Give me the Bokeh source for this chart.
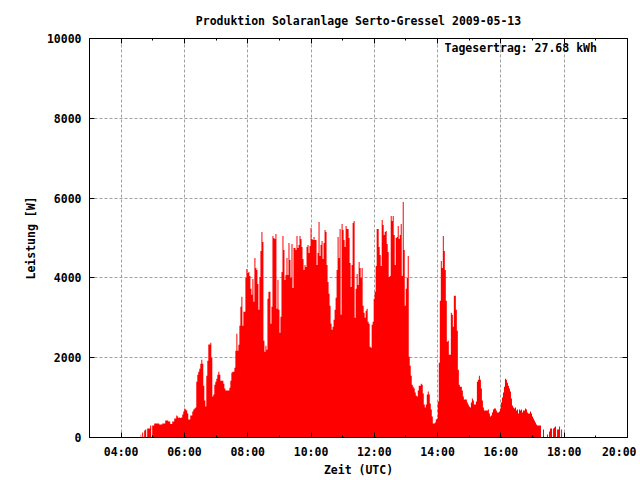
import numpy as np
import pandas as pd
from bokeh.plotting import figure
from bokeh.models import (ColumnDataSource, DatetimeAxis, LinearAxis, FixedTicker,
                          DatetimeTickFormatter, Range1d, Label)
from bokeh.embed import file_html
from bokeh.resources import INLINE

# ---------------- data ----------------
chart_title = "Produktion Solaranlage Serto-Gressel 2009-05-13"
day = "2009-05-13"
first_sample = "04:37:00"          # time of first sample (UTC)
sample_step_s = 114                 # seconds between samples
daily_yield_text = "Tagesertrag: 27.68 kWh"
x_label = "Zeit (UTC)"
y_label = "Leistung [W]"

# power in W, one value per sample
leistung_w = [
    75, 0, 125, 0, 175, 200, 0, 225, 225, 225, 300, 0, 300, 300, 350, 350, 350, 350, 350, 325,
    325, 325, 350, 350, 350, 425, 425, 425, 400, 400, 340, 340, 400, 400, 475, 475, 550, 525, 490, 500,
    490, 500, 575, 650, 725, 700, 675, 600, 450, 450, 550, 550, 650, 700, 725, 750,
    1400, 1575, 1650, 1725, 1850, 1950, 1850, 1300, 925, 775, 1550, 1925, 2330, 2330, 2375, 2000,
    1025, 1075, 1325, 1400, 1475, 1575, 1650, 1575, 1425, 1425, 1425, 1350, 1225, 1175, 1175, 1175,
    1175, 1250, 1425, 1625, 1650, 1650, 1750, 2175, 2600, 2175, 2325, 2800, 3275, 3525, 2800, 3150,
    3150, 4000, 4225, 4125, 4150, 4050, 3725, 3575, 3975, 3400, 4500, 4250, 4200, 3850, 3200, 4025,
    4675, 5150, 4900, 2425, 2150, 2300, 2200, 3475, 3650, 3650,
    2850, 3275, 5050, 5000, 4975, 5100, 3225, 3950, 3200, 2625, 3025, 4150, 5050, 4700, 3950, 4075,
    4500, 4075, 4875, 4450, 4000, 4850, 3750, 4750, 4750, 4700, 5050, 4750, 4825, 5050, 4975, 4775,
    4475, 4200, 4325, 4275, 4775, 4825, 4625, 4800, 5250, 4975, 4950, 5025, 4950, 4950, 4325, 4625,
    5400, 4550, 4825, 4925, 4475, 4875, 5200, 5150, 4325, 3900, 3600, 3300, 2850, 2700, 2775, 2950,
    3200, 3500, 4200, 5025, 4500, 5225, 3075,
    5350, 5200, 4950, 4775, 5300, 5225, 5225, 5000, 4375, 3775, 4325, 5375, 5425, 3000, 3725, 4100,
    3825, 4400, 4250, 4000, 4250, 3300, 3125, 3000, 3175, 3225, 2900, 2850, 2275, 2250, 2825, 2900,
    3475, 3650, 4300, 5225, 5225, 4775, 4575, 4300, 5450, 5325, 5075, 5150, 5175, 4850, 4650, 4025,
    4050, 5550, 5425, 5550, 5075, 4325, 5000, 5025, 5300, 4975, 5075, 5350, 4050, 5900, 4700, 3300,
    3725, 4000, 4550, 2025, 1800, 1550, 1325, 1275, 1225,
    1125, 1050, 1025, 1175, 1300, 1300, 1350, 1325, 1100, 825, 750, 825, 1075, 1150, 1075, 850,
    700, 525, 350, 350, 375, 450, 475, 900, 1875, 3425, 4425, 4250, 5050, 4675, 4200, 3425,
    2400, 2425, 2075, 2075, 3125, 3075, 2775, 3550, 3550, 3200, 2675, 1700, 1325, 1275, 1275, 1175,
    1025, 950, 950, 950, 875, 825, 775, 750, 875, 975, 925, 825, 825, 900, 1400, 1450,
    1550, 1450, 1225, 925,
    750, 675, 675, 675, 675, 700, 600, 525, 550, 625, 700, 725, 725, 675, 625, 625,
    650, 725, 875, 1000, 1125, 1275, 1475, 1450, 1375, 1300, 1225, 1150, 975, 800, 750, 725,
    750, 675, 700, 600, 700, 675, 700, 625, 675, 675, 725, 700, 625, 600, 600, 650,
    600, 525, 475, 425, 375, 325, 300, 300, 300, 300, 0, 0, 200, 0, 0, 0,
    75, 0, 150, 225, 225, 0, 225, 250, 275, 0, 200, 200, 275, 0, 200, 0,
]

x_range_hours = [3, 20]
x_tick_hours = [4, 6, 8, 10, 12, 14, 16, 18, 20]
x_minor_tick_hours = list(range(3, 21))
y_ticks = [0, 2000, 4000, 6000, 8000, 10000]
y_range = [0, 10000]
yield_label_at = ("19:02", 9750)

# ---------------- build ----------------
t0 = pd.Timestamp(f"{day} {first_sample}")
times = t0 + pd.to_timedelta(np.arange(len(leistung_w)) * sample_step_s, unit="s")
src = ColumnDataSource(dict(t=times, w=leistung_w))

def ms(h):
    return (pd.Timestamp(day) + pd.Timedelta(hours=h)).value / 1e6

FONT = "DejaVu Sans Mono"
FS = "11.5px"

p = figure(width=636, height=479, output_backend="svg", toolbar_location=None,
           x_axis_type="datetime",
           x_range=Range1d(ms(x_range_hours[0]), ms(x_range_hours[1])),
           y_range=Range1d(*y_range),
           min_border_left=89, min_border_right=9, min_border_top=38, min_border_bottom=41)

p.title.text = chart_title
p.title.align = "center"
p.title.text_font = FONT
p.title.text_font_size = FS
p.title.text_font_style = "bold"
p.title.text_color = "black"
p.title.standoff = 22

p.varea_step(x="t", y1=0, y2="w", step_mode="center", source=src,
             fill_color="#ff0000", fill_alpha=1.0)

xt = FixedTicker(ticks=[ms(h) for h in x_tick_hours],
                 minor_ticks=[ms(h) for h in x_minor_tick_hours])
yt = FixedTicker(ticks=y_ticks)
fmt = DatetimeTickFormatter(hours="%H:%M", hourmin="%H:%M", days="%H:%M",
                            minutes="%H:%M", minsec="%H:%M")

for ax in p.xaxis:
    ax.ticker = xt
    ax.formatter = fmt
    ax.axis_label = x_label
for ax in p.yaxis:
    ax.ticker = yt
    ax.axis_label = y_label
    ax.minor_tick_line_color = None

for ax in list(p.xaxis) + list(p.yaxis):
    ax.major_tick_in = 5
    ax.major_tick_out = 0
    ax.minor_tick_in = 2
    ax.minor_tick_out = 0
    ax.axis_line_color = "black"
    ax.major_tick_line_color = "black"
    ax.major_label_text_font = FONT
    ax.major_label_text_font_size = FS
    ax.major_label_text_font_style = "bold"
    ax.major_label_text_color = "black"
    ax.axis_label_text_font = FONT
    ax.axis_label_text_font_size = FS
    ax.axis_label_text_font_style = "bold"
    ax.axis_label_text_color = "black"

p.xaxis.major_label_standoff = 7
p.xaxis.axis_label_standoff = 1
p.yaxis.major_label_standoff = 8
p.yaxis.axis_label_standoff = 6

# mirrored tick marks (top / right), without labels
top_ax = DatetimeAxis(ticker=xt, formatter=fmt, major_tick_in=5, major_tick_out=0,
                      minor_tick_in=2, minor_tick_out=0, axis_line_color=None,
                      major_label_text_color=None, major_label_text_font_size="1px",
                      major_label_standoff=0)
right_ax = LinearAxis(ticker=yt, major_tick_in=5, major_tick_out=0,
                      minor_tick_line_color=None, axis_line_color=None,
                      major_label_text_color=None, major_label_text_font_size="1px",
                      major_label_standoff=0)
p.add_layout(top_ax, "above")
p.add_layout(right_ax, "right")

p.xgrid.ticker = xt
p.ygrid.ticker = yt
p.grid.grid_line_color = "#a0a0a0"
p.grid.grid_line_dash = "3 2"
p.grid.grid_line_width = 1

p.outline_line_color = "black"
p.outline_line_width = 1
p.outline_line_alpha = 1.0
p.background_fill_color = "white"
p.border_fill_color = "white"

hh, mm = yield_label_at[0].split(":")
lbl = Label(x=ms(int(hh) + int(mm) / 60), y=yield_label_at[1],
            text=daily_yield_text, text_align="right", text_baseline="middle",
            text_font=FONT, text_font_size=FS, text_font_style="bold", text_color="black")
p.add_layout(lbl)

open("out.html", "w").write(file_html(p, INLINE))
